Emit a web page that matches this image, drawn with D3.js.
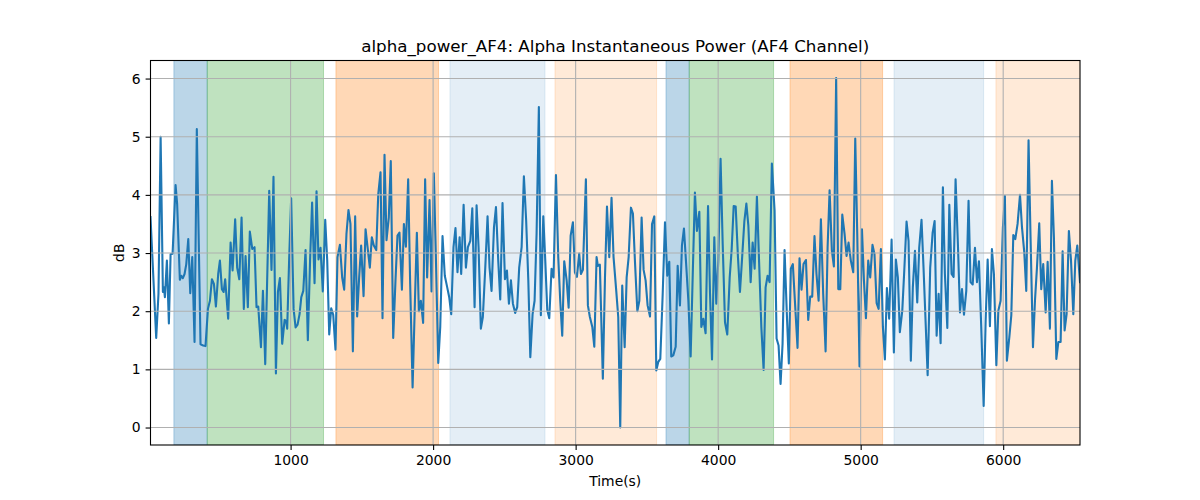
<!DOCTYPE html>
<html>
<head>
<meta charset="utf-8">
<script src="https://cdn.jsdelivr.net/npm/d3@7/dist/d3.min.js"></script>
<style>
  html, body { margin: 0; padding: 0; background: #fff; }
  svg text { font-family: "DejaVu Sans", sans-serif; fill: #000; }
</style>
</head>
<body>
<svg id="chart" width="1200" height="500"></svg>
<script>
const title = "alpha_power_AF4: Alpha Instantaneous Power (AF4 Channel)";
const xLabel = "Time(s)";
const yLabel = "dB";
const xTicks = [1000, 2000, 3000, 4000, 5000, 6000];
const yTicks = [0, 1, 2, 3, 4, 5, 6];

const times = [17,57,73,88,104,111,118,132,146,158,172,193,204,223,233,244,256,268,282,296,310,326,342,368,387,403,420,434,448,462,476,492,504,518,530,541,562,579,593,611,625,640,656,672,684,700,714,731,747,761,773,792,806,822,850,866,880,897,911,925,941,958,969,976,990,1004,1021,1035,1049,1063,1075,1089,1105,1121,1137,1151,1168,1182,1196,1210,1226,1243,1257,1271,1285,1299,1315,1329,1346,1362,1376,1392,1406,1420,1437,1453,1467,1481,1495,1512,1526,1540,1556,1570,1584,1601,1615,1631,1645,1659,1673,1689,1703,1720,1736,1750,1764,1781,1795,1809,1825,1839,1856,1872,1886,1900,1914,1930,1944,1958,1975,1989,2005,2019,2036,2050,2066,2082,2099,2113,2127,2143,2157,2171,2186,2197,2214,2230,2244,2261,2275,2291,2305,2319,2335,2349,2366,2382,2396,2410,2427,2441,2457,2471,2487,2504,2518,2532,2546,2560,2576,2590,2604,2621,2637,2653,2668,2682,2698,2712,2726,2742,2756,2773,2787,2801,2815,2831,2845,2862,2878,2892,2906,2920,2937,2951,2965,2981,2995,3009,3025,3037,3051,3072,3086,3100,3117,3131,3147,3156,3170,3191,3206,3220,3236,3252,3266,3285,3299,3313,3327,3344,3358,3372,3388,3402,3416,3433,3447,3463,3477,3491,3505,3522,3536,3552,3566,3580,3594,3611,3627,3643,3657,3671,3685,3702,3716,3732,3746,3760,3774,3791,3807,3823,3837,3851,3868,3882,3896,3912,3929,3943,3957,3973,3987,4001,4017,4032,4048,4064,4081,4095,4109,4123,4139,4153,4167,4184,4198,4212,4228,4242,4256,4272,4287,4303,4319,4333,4347,4361,4377,4396,4410,4424,4438,4452,4466,4482,4496,4510,4524,4541,4557,4571,4585,4599,4616,4632,4646,4660,4676,4690,4705,4721,4737,4754,4768,4782,4798,4812,4828,4843,4857,4871,4887,4901,4915,4931,4948,4962,4976,4992,5009,5023,5037,5053,5067,5083,5097,5112,5126,5142,5156,5170,5184,5200,5217,5233,5247,5261,5275,5292,5306,5322,5336,5352,5366,5381,5397,5411,5427,5441,5470,5488,5505,5519,5533,5547,5561,5577,5591,5608,5622,5638,5652,5666,5683,5697,5711,5725,5741,5757,5771,5786,5802,5816,5830,5846,5863,5877,5891,5907,5921,5935,5952,5966,5982,5998,6012,6026,6043,6057,6071,6085,6101,6118,6132,6148,6162,6178,6192,6209,6223,6237,6253,6267,6281,6298,6312,6328,6342,6356,6373,6387,6403,6417,6431,6445,6461,6476,6492,6506,6520,6539];

const power = [3.62,1.54,2.3,5.0,2.33,2.41,2.24,2.87,1.79,2.98,2.99,4.17,3.84,2.54,2.61,2.57,2.64,2.81,3.24,2.31,2.93,1.47,5.13,1.43,1.41,1.40,2.04,2.18,2.55,2.47,2.08,2.64,2.87,2.38,2.33,2.55,1.87,3.18,2.70,3.58,2.75,2.55,3.61,2.04,2.95,2.07,3.37,3.07,3.10,2.07,2.08,1.38,2.35,1.09,4.07,2.71,4.31,0.93,2.33,2.57,1.44,1.85,1.83,1.70,2.9,3.94,2.04,1.72,1.77,1.95,2.24,2.35,3.05,1.50,2.9,3.87,2.48,4.06,2.89,3.09,2.34,3.57,2.87,1.60,2.05,1.94,1.34,2.93,3.14,2.58,2.37,3.33,3.74,3.50,1.31,3.63,1.91,2.58,3.13,2.26,3.41,3.10,2.75,3.27,3.13,3.05,4.01,4.39,1.88,4.69,3.22,3.61,4.58,1.54,2.53,3.30,3.35,2.37,3.50,3.11,4.27,2.47,0.69,2.13,3.35,2.00,2.18,1.80,4.27,2.58,3.91,2.34,4.37,2.98,1.11,1.73,3.29,2.61,2.41,2.24,1.95,3.10,3.43,2.67,3.27,2.64,3.83,2.75,3.10,3.21,3.77,2.07,3.82,3.10,1.70,1.90,2.75,3.63,2.75,2.35,3.44,3.79,2.87,2.20,3.86,2.55,2.70,2.13,2.53,2.13,1.97,2.07,2.75,3.10,4.32,3.55,2.53,1.21,1.95,2.18,3.33,5.51,1.93,3.63,2.87,2.02,1.88,2.73,2.58,4.34,2.93,2.18,1.58,2.86,2.53,2.06,3.30,3.53,2.67,2.59,2.99,2.64,2.71,4.27,2.10,1.90,1.73,1.39,2.93,2.78,2.80,0.84,2.58,3.80,2.93,3.95,2.93,2.35,1.90,0.0,2.44,1.38,2.58,2.93,3.78,3.68,2.87,2.00,2.18,3.61,2.71,2.53,2.10,1.91,3.50,3.63,0.98,1.13,1.18,2.30,3.53,2.61,2.85,1.22,1.24,1.39,2.78,2.10,3.13,3.42,2.87,2.18,1.22,2.75,4.04,3.38,3.71,1.73,1.87,1.62,3.81,2.30,1.17,3.27,2.13,2.87,4.62,3.15,1.81,1.60,2.58,3.07,3.81,3.80,2.93,2.33,2.87,3.55,3.85,3.47,2.50,3.18,2.73,3.97,2.87,1.73,0.99,2.41,2.61,2.50,4.54,3.73,1.53,1.41,0.75,1.44,3.05,1.95,1.10,2.73,2.81,2.07,1.37,2.91,2.37,2.81,2.88,1.85,2.25,2.25,3.29,2.64,2.18,3.58,2.30,1.31,3.10,4.08,3.04,2.77,6.01,2.38,2.38,3.66,3.33,2.95,3.18,2.87,2.67,4.97,3.33,1.05,3.41,2.53,1.88,2.87,2.58,3.14,2.98,2.14,2.04,3.07,1.73,1.17,2.40,1.87,3.23,1.29,2.89,2.58,1.64,2.01,2.70,3.54,3.21,1.15,2.41,3.04,2.15,3.10,3.57,2.75,0.90,2.75,3.35,3.55,1.58,2.30,1.45,4.13,2.64,1.71,3.83,2.64,2.59,4.27,3.10,1.98,2.38,1.94,2.35,3.90,2.50,2.46,3.09,2.50,2.86,1.73,0.37,1.84,2.89,1.74,3.07,2.64,1.07,2.01,2.18,3.44,3.98,1.15,1.55,1.93,3.31,3.24,3.50,4.00,3.44,3.01,2.35,4.94,3.27,1.38,2.18,2.75,3.51,2.38,2.81,1.98,2.85,1.70,4.24,3.27,1.18,1.47,1.47,3.03,1.67,1.95,3.38,2.87,1.95,2.87,3.13,2.50];

// shaded segments: start time, end time, kind
const bandStarts = [181, 415, 1318, 2118, 2855, 3634, 3797, 4504, 5234, 5949];
const bandEnds   = [415, 1231, 2038, 2785, 3568, 3797, 4389, 5154, 5863, 6600];
const bandKinds  = ["blue", "green", "orange", "lightblue", "lightorange", "blue", "green", "orange", "lightblue", "lightorange"];

const kindStyle = {
  blue:        { color: "#1f77b4", alpha: 0.3 },
  green:       { color: "#2ca02c", alpha: 0.3 },
  orange:      { color: "#ff7f0e", alpha: 0.3 },
  lightblue:   { color: "#1f77b4", alpha: 0.12 },
  lightorange: { color: "#ff7f0e", alpha: 0.16 }
};

const W = 1200, H = 500;
const m = { left: 150.5, right: 1080, top: 60.5, bottom: 445 };

const svg = d3.select("#chart");

const xMin = d3.min(times), xMax = d3.max(times);
const yLo = d3.min(power), yHi = d3.max(power);
const pad = (yHi - yLo) * 0.05;

const x = d3.scaleLinear().domain([xMin, xMax]).range([m.left, m.right]);
const y = d3.scaleLinear().domain([yLo - pad, yHi + pad]).range([m.bottom, m.top]);

const clip = svg.append("defs").append("clipPath").attr("id", "clip")
  .append("rect").attr("x", m.left).attr("y", m.top)
  .attr("width", m.right - m.left).attr("height", m.bottom - m.top);

const plot = svg.append("g").attr("clip-path", "url(#clip)");

// bands
plot.selectAll("rect.band")
  .data(bandStarts.map((s, i) => ({ s, e: bandEnds[i], k: bandKinds[i] })))
  .enter().append("rect")
  .attr("class", "band")
  .attr("x", d => x(d.s))
  .attr("y", m.top)
  .attr("width", d => x(d.e) - x(d.s))
  .attr("height", m.bottom - m.top)
  .attr("fill", d => kindStyle[d.k].color)
  .attr("fill-opacity", d => kindStyle[d.k].alpha)
  .attr("stroke", d => kindStyle[d.k].color)
  .attr("stroke-opacity", d => kindStyle[d.k].alpha)
  .attr("stroke-width", 1);

// grid
const grid = svg.append("g");
grid.selectAll("line.gx").data(xTicks).enter().append("line")
  .attr("x1", d => x(d)).attr("x2", d => x(d))
  .attr("y1", m.top).attr("y2", m.bottom)
  .attr("stroke", "#b0b0b0").attr("stroke-width", 1.1);
grid.selectAll("line.gy").data(yTicks).enter().append("line")
  .attr("x1", m.left).attr("x2", m.right)
  .attr("y1", d => y(d)).attr("y2", d => y(d))
  .attr("stroke", "#b0b0b0").attr("stroke-width", 1.1);

// line
const line = d3.line().x((d, i) => x(times[i])).y(d => y(d));
plot.append("path")
  .datum(power)
  .attr("d", line)
  .attr("fill", "none")
  .attr("stroke", "#1f77b4")
  .attr("stroke-width", 2.1)
  .attr("stroke-linejoin", "round")
  .attr("stroke-linecap", "square");

// frame
svg.append("rect")
  .attr("x", m.left).attr("y", m.top)
  .attr("width", m.right - m.left).attr("height", m.bottom - m.top)
  .attr("fill", "none").attr("stroke", "#000").attr("stroke-width", 1.1);

// axes
const xAxis = d3.axisBottom(x).tickValues(xTicks).tickSize(4.9).tickPadding(4.9).tickFormat(d3.format("d"));
const gx = svg.append("g").attr("transform", `translate(0,${m.bottom})`).call(xAxis);
const yAxis = d3.axisLeft(y).tickValues(yTicks).tickSize(4.9).tickPadding(4.9).tickFormat(d3.format("d"));
const gy = svg.append("g").attr("transform", `translate(${m.left},0)`).call(yAxis);
[gx, gy].forEach(g => {
  g.select(".domain").remove();
  g.selectAll(".tick line").attr("stroke", "#000").attr("stroke-width", 1.1);
  g.selectAll(".tick text").attr("font-size", "13.9px").attr("font-family", "DejaVu Sans");
});

// labels
svg.append("text")
  .attr("x", (m.left + m.right) / 2).attr("y", 52)
  .attr("text-anchor", "middle").attr("font-size", "16.7px")
  .text(title);
svg.append("text")
  .attr("x", (m.left + m.right) / 2).attr("y", 486)
  .attr("text-anchor", "middle").attr("font-size", "13.9px")
  .text(xLabel);
svg.append("text")
  .attr("transform", `translate(124,${(m.top + m.bottom) / 2}) rotate(-90)`)
  .attr("text-anchor", "middle").attr("font-size", "13.9px")
  .text(yLabel);
</script>
</body>
</html>
